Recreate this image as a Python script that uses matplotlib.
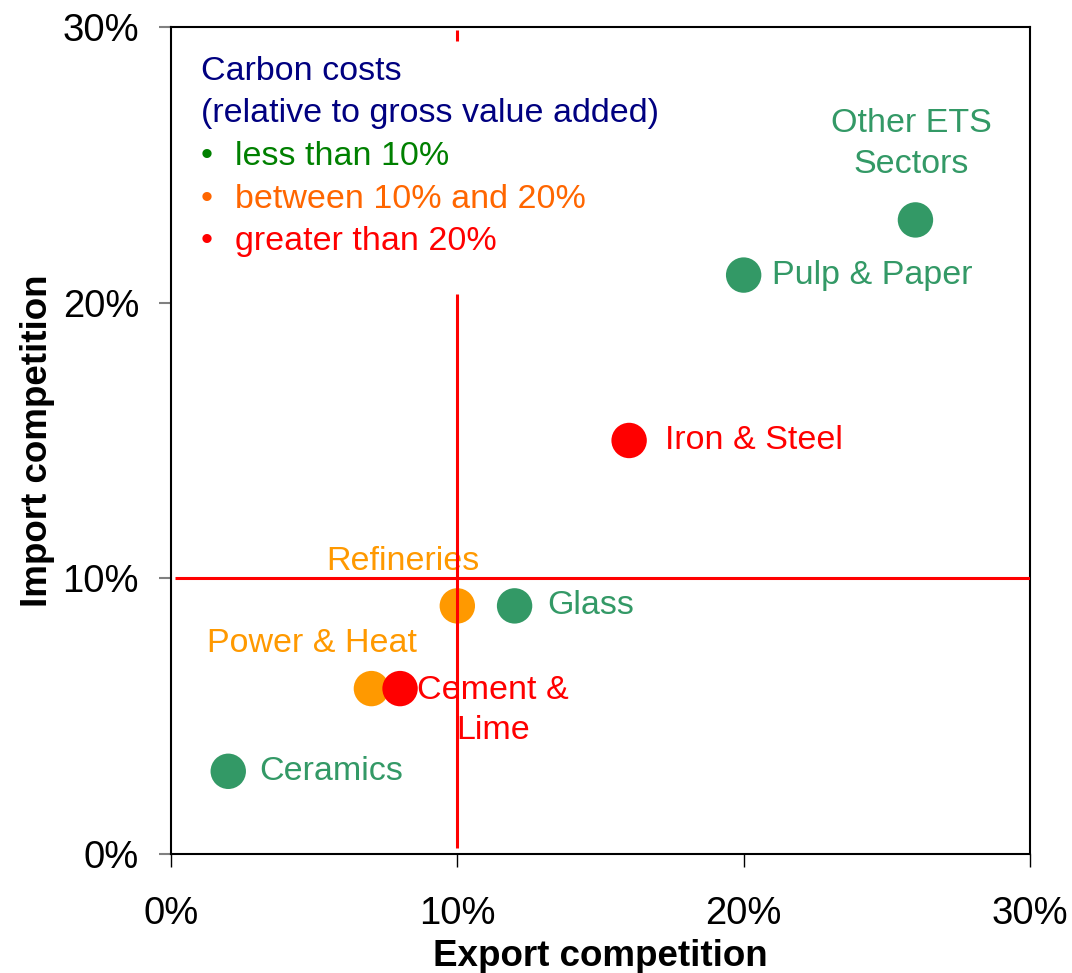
import matplotlib
matplotlib.use("Agg")
import matplotlib.pyplot as plt
from matplotlib.ticker import FuncFormatter

plt.rcParams['font.family'] = ['Liberation Sans', 'DejaVu Sans']

# ---- data ----
sectors = ["Ceramics", "Power & Heat", "Cement & Lime", "Refineries", "Glass",
           "Iron & Steel", "Pulp & Paper", "Other ETS Sectors"]
export_comp = [2, 7, 8, 10, 12, 16, 20, 26]      # %
import_comp = [3, 6, 6, 9, 9, 15, 21, 23]        # %
cost_class = ["low", "mid", "high", "mid", "low", "high", "low", "low"]

class_colors = {"low": "#339966", "mid": "#FF9900", "high": "#FF0000"}
legend_labels = ["less than 10%", "between 10% and 20%", "greater than 20%"]
legend_colors = ["#008000", "#FF6600", "#FF0000"]

x_ticks = [0, 10, 20, 30]
y_ticks = [0, 10, 20, 30]

# reference lines (x0, x1, y0, y1)
ref_lines = [(10, 10, 0.2, 20.3), (10, 10, 29.5, 29.9), (0.15, 30, 10, 10)]

# ---- figure ----
fig = plt.figure(figsize=(10.72, 9.73), dpi=100)
ax = fig.add_axes([0.1595, 0.1223, 0.8013, 0.850])

for xv, yv, c in zip(export_comp, import_comp, cost_class):
    ax.scatter([xv], [yv], s=650, color=class_colors[c], edgecolors="none", zorder=3)

for x0, x1, y0, y1 in ref_lines:
    ax.plot([x0, x1], [y0, y1], color="#FF0000", lw=2.2, zorder=4, solid_capstyle="butt")

ax.set_xlim(0, 30)
ax.set_ylim(0, 30)
ax.set_xticks(x_ticks)
ax.set_yticks(y_ticks)
fmt = FuncFormatter(lambda v, p: f"{int(v)}%")
ax.xaxis.set_major_formatter(fmt)
ax.yaxis.set_major_formatter(fmt)
ax.tick_params(axis="x", direction="out", length=9, width=1.0, color="black",
               labelsize=27.5, pad=21)
ax.tick_params(axis="y", direction="out", length=9, width=1.5, color="#808080",
               labelsize=27.5, pad=14)
for sp in ax.spines.values():
    sp.set_linewidth(1.5)
    sp.set_color("black")

ax.set_xlabel("Export competition", fontsize=26.5, fontweight="bold", labelpad=5)
ax.set_ylabel("Import competition", fontsize=26.5, fontweight="bold", labelpad=5)

# ---- annotations ----
fs = 24.5
green = class_colors["low"]
orange = class_colors["mid"]
red = class_colors["high"]
ax.text(25.85, 25.75, "Other ETS\nSectors", color=green, fontsize=fs,
        ha="center", va="center", linespacing=1.4)
ax.text(21.0, 21.0, "Pulp & Paper", color=green, fontsize=fs, ha="left", va="center")
ax.text(17.25, 15.0, "Iron & Steel", color=red, fontsize=fs, ha="left", va="center")
ax.text(13.15, 9.0, "Glass", color=green, fontsize=fs, ha="left", va="center")
ax.text(8.1, 10.6, "Refineries", color=orange, fontsize=fs, ha="center", va="center")
ax.text(1.25, 7.65, "Power & Heat", color=orange, fontsize=fs, ha="left", va="center")
ax.text(11.25, 5.2, "Cement &\nLime", color=red, fontsize=fs, ha="center", va="center",
        linespacing=1.35)
ax.text(3.1, 3.0, "Ceramics", color=green, fontsize=fs, ha="left", va="center")

# ---- legend block ----
ax.text(1.05, 28.4, "Carbon costs", color="#000080", fontsize=fs, ha="left", va="center")
ax.text(1.05, 26.85, "(relative to gross value added)", color="#000080", fontsize=fs,
        ha="left", va="center")
for i, (lab, col) in enumerate(zip(legend_labels, legend_colors)):
    yy = 25.3 - i * 1.55
    ax.text(1.05, yy, "\u2022", color=col, fontsize=fs, ha="left", va="center")
    ax.text(2.25, yy, lab, color=col, fontsize=fs, ha="left", va="center")

fig.savefig("out.png", dpi=100)
